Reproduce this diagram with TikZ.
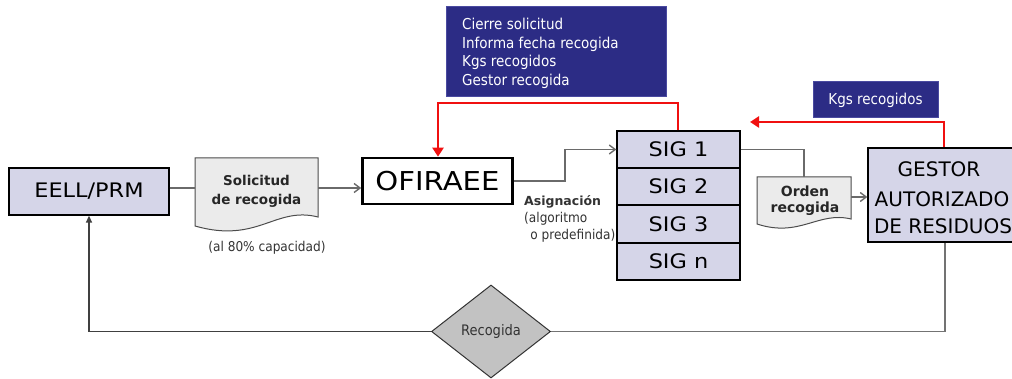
\documentclass[tikz,border=0pt]{standalone}
\usepackage{fontspec}
\setmainfont{DejaVu Sans}
\newfontfamily\condf{DejaVu Sans Condensed}
\newfontfamily\widef[FakeStretch=1.12]{DejaVu Sans}
\usetikzlibrary{arrows.meta,shapes.geometric}
\definecolor{lavfill}{HTML}{D5D5E8}
\definecolor{docfill}{HTML}{EBEBEB}
\definecolor{navy}{HTML}{2C2C85}
\definecolor{navyedge}{HTML}{4A4AA0}
\definecolor{redline}{HTML}{F01010}
\definecolor{conn}{HTML}{6A6A6A}
\definecolor{diafill}{HTML}{C2C2C2}
\begin{document}
\begin{tikzpicture}[x=1pt,y=-1pt,
  lav/.style={draw=black, line width=1.3pt, fill=lavfill, inner sep=0pt, align=center},
  doc/.style={draw=black!70, line width=1pt, fill=docfill},
  infobox/.style={draw=navyedge, line width=1pt, fill=navy, inner sep=0pt, text=white},
  flow/.style={draw=conn, line width=1.6pt, -{Straight Barb[length=6pt,width=9pt,line width=1.4pt]}},
  plain/.style={draw=conn, line width=1.6pt},
  redarr/.style={draw=redline, line width=2.4pt, -{Triangle[length=9pt,width=11pt]}},
  bigtxt/.style={font=\widef\fontsize{20}{28}\selectfont},
  gtxt/.style={font=\fontsize{20}{28}\selectfont},
  boldlbl/.style={font=\bfseries\fontsize{13.5}{19}\selectfont, text=black!85, align=center},
  smalllbl/.style={font=\condf\fontsize{13.5}{16}\selectfont, text=black!80},
]
\useasboundingbox (0,0) rectangle (1012,379);

% main boxes
\node[lav, minimum width=160pt, minimum height=47pt, bigtxt] (eell) at (89,191.5) {EELL/PRM};
\node[draw=black, line width=2.6pt, fill=white, minimum width=150pt, minimum height=46pt,
      inner sep=0pt, font=\widef\fontsize{26}{30}\selectfont] (ofi) at (437.5,181) {OFIRAEE};

\node[lav, minimum width=123pt, minimum height=37pt, bigtxt] (sig1) at (678.5,149.5) {SIG 1};
\node[lav, minimum width=123pt, minimum height=37pt, bigtxt] (sig2) at (678.5,186.5) {SIG 2};
\node[lav, minimum width=123pt, minimum height=38pt, bigtxt] (sig3) at (678.5,224) {SIG 3};
\node[lav, minimum width=123pt, minimum height=37pt, bigtxt] (sign) at (678.5,261.5) {SIG n};

\node[lav, minimum width=146pt, minimum height=94pt] (gestor) at (941,195) {};
\node[gtxt] (g1) at (939,169) {GESTOR};
\node[gtxt] (g2) at (942,199) {AUTORIZADO};
\node[gtxt] (g3) at (943,226) {DE RESIDUOS};

% documents
\draw[doc] (195,158) -- (318,158) -- (318,217)
   .. controls (275,206) and (258,244) .. (195,226) -- cycle;
\node[boldlbl] (sol) at (256.5,191.5) {Solicitud\\de recogida};
\coordinate (solL) at (195,188);
\coordinate (solR) at (318,188);
\node[smalllbl] (cap) at (267,248) {(al 80\% capacidad)};

\draw[doc] (757,177) -- (851,177) -- (851,219)
   .. controls (818,211) and (800,238) .. (757,224) -- cycle;
\node[boldlbl, font=\bfseries\fontsize{14}{16}\selectfont] (ord) at (805,201) {Orden\\recogida};
\coordinate (ordT) at (804,177);
\coordinate (ordR) at (851,197);

% info boxes
\node[infobox, minimum width=220pt, minimum height=90pt] (info) at (556,52) {};
\node[anchor=north west, text=white, align=left, inner sep=0pt,
      font=\condf\fontsize{15}{18.7}\selectfont] (infotxt) at (462,18)
      {Cierre solicitud\\Informa fecha recogida\\Kgs recogidos\\Gestor recogida};
\node[infobox, minimum width=125pt, minimum height=36pt, font=\condf\fontsize{15}{15}\selectfont] (kgs) at (875.5,100) {Kgs recogidos};

% assignment label
\node[anchor=north west, align=left, inner sep=0pt, text=black!80,
      font=\condf\fontsize{13.5}{17}\selectfont] (asig) at (524,195)
  {{\normalfont\bfseries\fontsize{12.5}{17}\selectfont Asignación}\\
   (algoritmo\\
   \ \,o predefinida)};

% diamond
\node[diamond, draw=black!80, line width=1pt, fill=diafill, minimum width=119pt, minimum height=93pt,
      inner sep=0pt, aspect=1.28, font=\condf\fontsize{14.5}{16}\selectfont, text=black!80] (rec) at (491,331.5) {Recogida};

% connectors
\draw[plain] (eell.east |- solL) -- (solL);
\draw[flow] (solR) -- (ofi.west |- solR);
\draw[flow] (ofi.east |- 0,181) -- (565,181) -- (565,149.5) -- (sig1.west);
\draw[plain] (sig1.east) -- (ordT |- sig1.east) -- (ordT);
\draw[flow] (ordR) -- (gestor.west |- ordR);

\coordinate (rc1) at (678,103);
\draw[redarr] (sig1.north -| rc1) -- (rc1) -- (438,103) -- (ofi.north -| 438,0);
\coordinate (rc2) at (944,122);
\draw[redarr] (gestor.north -| rc2) -- (rc2) -- (750,122);

\draw[draw=black!55, line width=1.6pt] (gestor.south -| 945,0) -- (945,331.5) -- (rec.east);
\draw[draw=black!75, line width=1.4pt, -{Triangle[length=7pt,width=6pt]}] (rec.west) -- (89,331.5) -- (eell.south);
\end{tikzpicture}
\end{document}
